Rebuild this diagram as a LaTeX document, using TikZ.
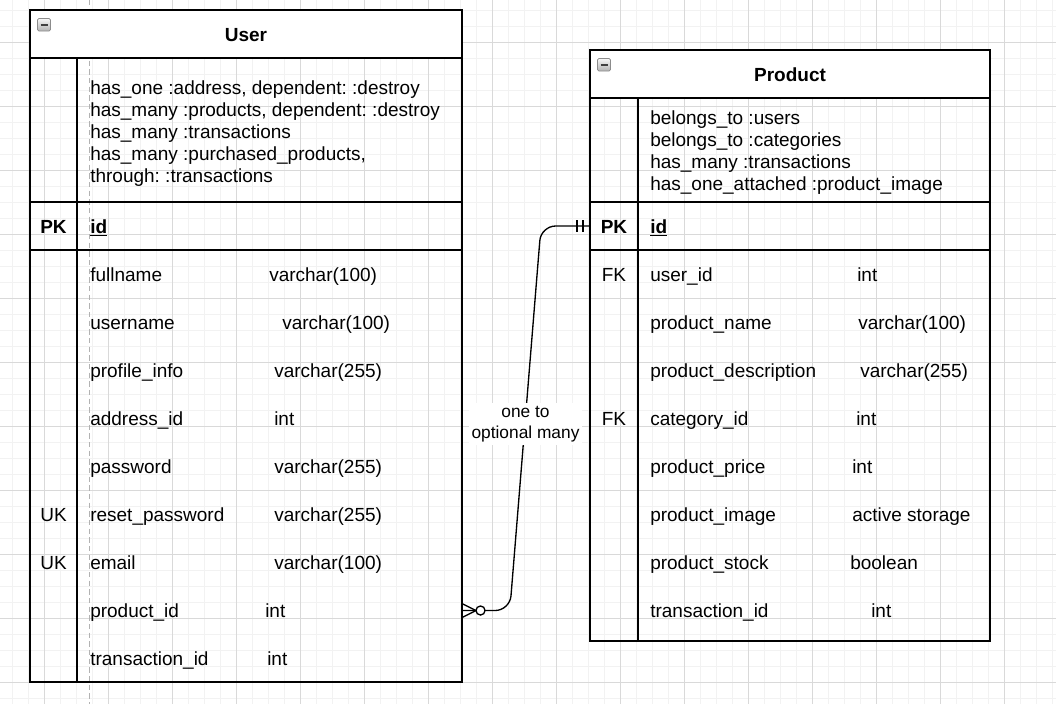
\documentclass[tikz,border=0pt]{standalone}
\usepackage{fontspec}
\setmainfont{Liberation Sans}
\newcommand{\txtsz}{\fontsize{14.25}{16.5}\selectfont}
\newcommand{\lblsz}{\fontsize{13}{15.75}\selectfont}
\frenchspacing
\begin{document}
\frenchspacing
\begin{tikzpicture}[x=0.75pt,y=-0.75pt,
  gridminor/.style={draw=black!5, line width=0.75pt},
  gridmajor/.style={draw=black!15, line width=0.75pt},
  tbl/.style={draw=black, line width=1.1pt},
  hdr/.style={fill=white, draw=black, line width=1.1pt},
  icon/.style={draw=black!45, line width=0.5pt, top color=black!3, bottom color=black!30, rounded corners=1pt},
  iconbar/.style={draw=black!75, line width=1.3pt},
  txt/.style={inner sep=0pt, anchor=base west, font=\txtsz},
  keytxt/.style={inner sep=0pt, anchor=base, font=\txtsz},
  boldtxt/.style={inner sep=0pt, anchor=base, font=\txtsz\bfseries},
  conn/.style={draw=black, line width=1pt},
  lbl/.style={fill=white, inner sep=2pt, align=center, font=\lblsz}
]
\useasboundingbox (0,0) rectangle (1056,704);
\fill[white] (0,0) rectangle (1056,704);
% grid
\foreach \i in {0,...,65} \draw[gridminor] ({12.7+16*\i},0) -- ({12.7+16*\i},704);
\foreach \j in {0,...,43} \draw[gridminor] (0,{10.3+16*\j}) -- (1056,{10.3+16*\j});
\foreach \i in {0,...,15} \draw[gridmajor] ({44.7+64*\i},0) -- ({44.7+64*\i},704);
\foreach \j in {0,...,10} \draw[gridmajor] (0,{42.3+64*\j}) -- (1056,{42.3+64*\j});
% page break line
\draw[black!30, line width=0.75pt, dash pattern=on 4pt off 2.5pt] (89,0) -- (89,704);

% ---------------- User table
\draw[tbl] (30,10) rectangle (462,682);
\draw[hdr] (30,10) rectangle (462,58);
\draw[tbl] (77,58) -- (77,682);
\draw[tbl] (30,202) -- (462,202);
\draw[tbl] (30,250) -- (462,250);
\draw[icon] (37.5,18.5) rectangle (50.5,31);
\draw[iconbar] (40.5,24.75) -- (47.5,24.75);
\node[boldtxt] (userT) at (246,41) {User};
\node[txt] (ua1) at (90,94) {has\_one :address, dependent: :destroy};
\node[txt] (ua2) at (90,116) {has\_many :products, dependent: :destroy};
\node[txt] (ua3) at (90,138) {has\_many :transactions};
\node[txt] (ua4) at (90,160) {has\_many :purchased\_products,};
\node[txt] (ua5) at (90,182) {through: :transactions};
\node[boldtxt] (upk) at (53.5,233) {PK};
\node[txt, font=\txtsz\bfseries] (uid) at (90,233) {\underline{id}};
\node[txt] (uf1) at (90,281) {fullname};
\node[txt] (ut1) at (269,281) {varchar(100)};
\node[txt] (uf2) at (90,329) {username};
\node[txt] (ut2) at (282,329) {varchar(100)};
\node[txt] (uf3) at (90,377) {profile\_info};
\node[txt] (ut3) at (274,377) {varchar(255)};
\node[txt] (uf4) at (90,425) {address\_id};
\node[txt] (ut4) at (274,425) {int};
\node[txt] (uf5) at (90,473) {password};
\node[txt] (ut5) at (274,473) {varchar(255)};
\node[keytxt] (uk6) at (53.5,521) {UK};
\node[txt] (uf6) at (90,521) {reset\_password};
\node[txt] (ut6) at (274,521) {varchar(255)};
\node[keytxt] (uk7) at (53.5,569) {UK};
\node[txt] (uf7) at (90,569) {email};
\node[txt] (ut7) at (274,569) {varchar(100)};
\node[txt] (uf8) at (90,617) {product\_id};
\node[txt] (ut8) at (265,617) {int};
\node[txt] (uf9) at (90,665) {transaction\_id};
\node[txt] (ut9) at (267,665) {int};

% ---------------- Product table
\draw[tbl] (590,50) rectangle (990,641);
\draw[hdr] (590,50) rectangle (990,98);
\draw[tbl] (638,98) -- (638,641);
\draw[tbl] (590,202) -- (990,202);
\draw[tbl] (590,250) -- (990,250);
\draw[icon] (597.5,58.5) rectangle (610.5,71);
\draw[iconbar] (600.5,64.75) -- (607.5,64.75);
\node[boldtxt] (prodT) at (790,81) {Product};
\node[txt] (pa1) at (650,124) {belongs\_to :users};
\node[txt] (pa2) at (650,146) {belongs\_to :categories};
\node[txt] (pa3) at (650,168) {has\_many :transactions};
\node[txt] (pa4) at (650,190) {has\_one\_attached :product\_image};
\node[boldtxt] (ppk) at (614,233) {PK};
\node[txt, font=\txtsz\bfseries] (pid) at (650,233) {\underline{id}};
\node[keytxt] (pk1) at (614,281) {FK};
\node[txt] (pf1) at (650,281) {user\_id};
\node[txt] (pt1) at (857,281) {int};
\node[txt] (pf2) at (650,329) {product\_name};
\node[txt] (pt2) at (858,329) {varchar(100)};
\node[txt] (pf3) at (650,377) {product\_description};
\node[txt] (pt3) at (860,377) {varchar(255)};
\node[keytxt] (pk4) at (614,425) {FK};
\node[txt] (pf4) at (650,425) {category\_id};
\node[txt] (pt4) at (856,425) {int};
\node[txt] (pf5) at (650,473) {product\_price};
\node[txt] (pt5) at (852,473) {int};
\node[txt] (pf6) at (650,521) {product\_image};
\node[txt] (pt6) at (852,521) {active storage};
\node[txt] (pf7) at (650,569) {product\_stock};
\node[txt] (pt7) at (850,569) {boolean};
\node[txt] (pf8) at (650,617) {transaction\_id};
\node[txt] (pt8) at (871,617) {int};

% ---------------- relationship
\coordinate (uend) at (462,610.5);
\coordinate (pend) at (590,226);
\draw[conn, rounded corners=11pt] (uend) -- (509.8,610.5) -- (541,226) -- (pend);
\draw[conn] (462,603.5) -- (476,610.5) -- (462,617.5);
\draw[conn, fill=white] (480.5,610.5) circle [radius=3.4pt];
\draw[conn] (577,220) -- (577,232);
\draw[conn] (583,220) -- (583,232);
\node[lbl] (rel) at (525.5,424) {one to\\optional many};
\end{tikzpicture}
\end{document}
